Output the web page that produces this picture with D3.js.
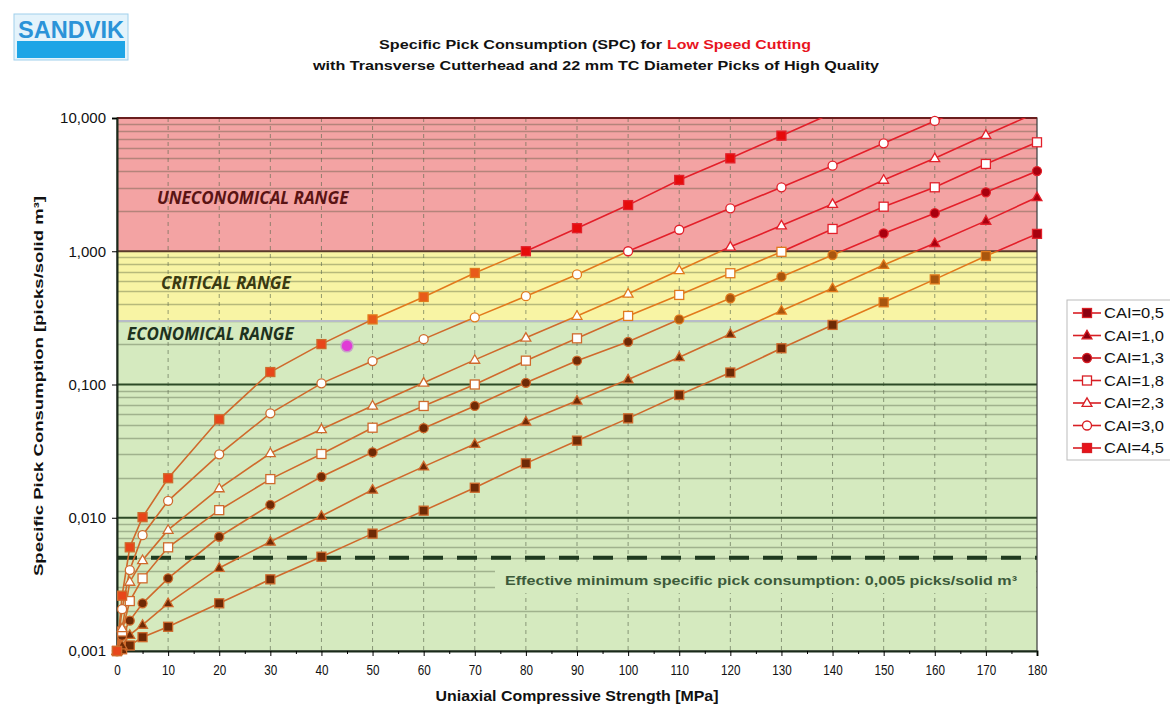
<!DOCTYPE html>
<html>
<head>
<meta charset="utf-8">
<script src="https://cdn.jsdelivr.net/npm/d3@7"></script>
<style>
  body { margin: 0; background: #fff; }
  svg { font-family: "Liberation Sans", Arial, sans-serif; }
</style>
</head>
<body>
<script>
// UCS values [MPa] at which SPC was read
var ucs = [0, 1, 2.5, 5, 10, 20, 30, 40, 50, 60, 70, 80, 90, 100, 110, 120, 130, 140, 150, 160, 170, 180];

// SPC values [picks/solid m3], one array per CAI, same order as ucs
var cai05 = [0.001, 0.00103, 0.0011, 0.00127, 0.00152, 0.00228, 0.00345, 0.0051, 0.0076, 0.0113, 0.0168, 0.0256, 0.0379, 0.0557, 0.0834, 0.123, 0.187, 0.280, 0.414, 0.615, 0.921, 1.35];
var cai10 = [0.001, 0.0011, 0.00132, 0.00157, 0.00228, 0.0042, 0.0066, 0.0103, 0.0162, 0.0242, 0.0357, 0.0526, 0.0756, 0.109, 0.160, 0.239, 0.358, 0.527, 0.788, 1.15, 1.69, 2.54];
var cai13 = [0.001, 0.0013, 0.00169, 0.00228, 0.00351, 0.0072, 0.0125, 0.0203, 0.031, 0.047, 0.069, 0.103, 0.151, 0.209, 0.308, 0.444, 0.644, 0.937, 1.36, 1.93, 2.77, 4.0];
var cai18 = [0.001, 0.0014, 0.00237, 0.00351, 0.0060, 0.0114, 0.0195, 0.0301, 0.0474, 0.069, 0.100, 0.151, 0.222, 0.327, 0.47, 0.684, 0.99, 1.47, 2.16, 3.02, 4.52, 6.57];
var cai23 = [0.001, 0.00148, 0.0033, 0.0048, 0.0081, 0.0166, 0.0305, 0.0461, 0.0693, 0.103, 0.153, 0.224, 0.327, 0.48, 0.72, 1.08, 1.56, 2.26, 3.43, 4.98, 7.45, 11.0];
var cai30 = [0.001, 0.00206, 0.00405, 0.0074, 0.0134, 0.0299, 0.0608, 0.102, 0.150, 0.219, 0.319, 0.46, 0.67, 1.0, 1.45, 2.10, 3.02, 4.39, 6.46, 9.5, 13.8];
var cai45 = [0.001, 0.0026, 0.0060, 0.0101, 0.0198, 0.0548, 0.124, 0.201, 0.308, 0.454, 0.687, 1.0, 1.49, 2.22, 3.43, 4.98, 7.37, 10.9];

var seriesNames = ["CAI=0,5", "CAI=1,0", "CAI=1,3", "CAI=1,8", "CAI=2,3", "CAI=3,0", "CAI=4,5"];
var seriesValues = [cai05, cai10, cai13, cai18, cai23, cai30, cai45];
var seriesShapes = ["square", "triangle", "circle", "square", "triangle", "circle", "square"];
var seriesHollow = [false, false, false, true, true, true, false];

var yTicks = [0.001, 0.01, 0.1, 1, 10];
var yTickLabels = ["0,001", "0,010", "0,100", "1,000", "10,000"];
var xTicks = d3.range(0, 181, 10);
var minSpc = 0.005;
var ranges = [
  {name: "UNECONOMICAL RANGE", lo: 1, hi: 10, fill: "#f3a3a3", line: "#e3202a", mark: "#a8000e", top: "#e60b0b", label: "#5a1414"},
  {name: "CRITICAL RANGE", lo: 0.3, hi: 1, fill: "#f8f4a4", line: "#e27a1c", mark: "#a8560e", top: "#e85a1a", label: "#3a3a12"},
  {name: "ECONOMICAL RANGE", lo: 0.001, hi: 0.3, fill: "#d5eabf", line: "#cf6a2c", mark: "#6e2a06", top: "#e8461a", label: "#1e321e"}
];
var highlight = {ucs: 45, spc: 0.195};

var W = 1170, H = 706;
var pLeft = 117, pRight = 1037, pTop = 118, pBottom = 651;

var x = d3.scaleLinear().domain([0, 180]).range([pLeft, pRight]);
var y = d3.scaleLog().domain([0.001, 10]).range([pBottom, pTop]);

var svg = d3.select("body").append("svg")
  .attr("width", W)
  .attr("height", H);

// logo
var logo = svg.append("g").attr("transform", "translate(14,14)");
logo.append("rect").attr("width", 114).attr("height", 46).attr("fill", "#e4f3fb").attr("stroke", "#9fd0ec");
logo.append("rect").attr("x", 3).attr("y", 27).attr("width", 108).attr("height", 17).attr("fill", "#1ea5e6");
logo.append("text").attr("x", 57).attr("y", 24).attr("text-anchor", "middle")
  .style("font-size", "23px").style("font-weight", "bold").attr("fill", "#2b93d8")
  .attr("textLength", 106).attr("lengthAdjust", "spacingAndGlyphs").text("SANDVIK");

// title (stretched to the reference widths)
svg.append("text").attr("x", 379).attr("y", 49)
  .style("font-size", "13px").style("font-weight", "bold").attr("fill", "#111")
  .attr("textLength", 283).attr("lengthAdjust", "spacingAndGlyphs")
  .text("Specific Pick Consumption (SPC) for");
svg.append("text").attr("x", 667).attr("y", 49)
  .style("font-size", "13px").style("font-weight", "bold").attr("fill", "#e8141e")
  .attr("textLength", 144).attr("lengthAdjust", "spacingAndGlyphs")
  .text("Low Speed Cutting");
svg.append("text").attr("x", 313).attr("y", 70)
  .style("font-size", "13px").style("font-weight", "bold").attr("fill", "#111")
  .attr("textLength", 566).attr("lengthAdjust", "spacingAndGlyphs")
  .text("with Transverse Cutterhead and 22 mm TC Diameter Picks of High Quality");

// bands
ranges.forEach(function(r) {
  svg.append("rect")
    .attr("x", pLeft).attr("width", pRight - pLeft)
    .attr("y", y(r.hi)).attr("height", y(r.lo) - y(r.hi))
    .attr("fill", r.fill);
});

// horizontal grid (log minor lines)
var minor = [];
for (var e = -3; e < 1; e++) {
  for (var m = 2; m <= 9; m++) minor.push(m * Math.pow(10, e));
}
svg.append("g").selectAll("line").data(minor).enter().append("line")
  .attr("x1", pLeft).attr("x2", pRight)
  .attr("y1", function(d) { return Math.round(y(d)) + 0.5; })
  .attr("y2", function(d) { return Math.round(y(d)) + 0.5; })
  .attr("stroke", "#3e4a30").attr("stroke-opacity", 0.35).attr("stroke-width", 1.3);

// vertical dashed grid
svg.append("g").selectAll("line").data(xTicks.slice(1, -1)).enter().append("line")
  .attr("x1", function(d) { return x(d); }).attr("x2", function(d) { return x(d); })
  .attr("y1", pTop).attr("y2", pBottom)
  .attr("stroke", "#5d6a50").attr("stroke-opacity", 0.65).attr("stroke-dasharray", "4,4");

// decade lines
svg.append("g").selectAll("line").data([0.01, 0.1]).enter().append("line")
  .attr("x1", pLeft).attr("x2", pRight)
  .attr("y1", function(d) { return y(d); }).attr("y2", function(d) { return y(d); })
  .attr("stroke", "#2d4a26").attr("stroke-width", 2);
svg.append("line").attr("x1", pLeft).attr("x2", pRight).attr("y1", y(1)).attr("y2", y(1))
  .attr("stroke", "#5a3a2a").attr("stroke-width", 2);
svg.append("line").attr("x1", pLeft).attr("x2", pRight).attr("y1", y(0.3)).attr("y2", y(0.3))
  .attr("stroke", "#b8bcc8").attr("stroke-width", 2);

// label box for min line text, hides grid under it
svg.append("rect").attr("x", 495).attr("y", 563).attr("width", pRight - 496).attr("height", 30)
  .attr("fill", ranges[2].fill);
svg.append("text").attr("x", 505).attr("y", 585)
  .style("font-size", "13px").style("font-weight", "bold").attr("fill", "#3c5a3a")
  .attr("textLength", 512).attr("lengthAdjust", "spacingAndGlyphs")
  .text("Effective minimum specific pick consumption: 0,005 picks/solid m\u00b3");

// dashed min line
svg.append("line").attr("x1", pLeft).attr("x2", pRight).attr("y1", y(minSpc)).attr("y2", y(minSpc))
  .attr("stroke", "#1f3a1f").attr("stroke-width", 4).attr("stroke-dasharray", "20,14");

// plot border
svg.append("rect").attr("x", pLeft).attr("y", pTop).attr("width", pRight - pLeft).attr("height", pBottom - pTop)
  .attr("fill", "none").attr("stroke", "#3a3a3a").attr("stroke-width", 1.2);
svg.append("line").attr("x1", pLeft).attr("x2", pRight).attr("y1", pTop).attr("y2", pTop)
  .attr("stroke", "#6a1e1e").attr("stroke-width", 2);

// range labels
var labelPos = [[157, 204], [161, 289], [127, 340]];
ranges.forEach(function(r, i) {
  svg.append("text").attr("x", labelPos[i][0]).attr("y", labelPos[i][1])
    .style("font-family", "'Open Sans', sans-serif").style("font-style", "italic")
    .style("font-weight", "bold").style("font-size", "17px").attr("fill", r.label)
    .text(r.name);
});

// axes
var xAxis = d3.axisBottom(x).tickValues(xTicks).tickSize(5).tickPadding(8).tickFormat(d3.format("d"));
var gx = svg.append("g").attr("transform", "translate(0," + pBottom + ")").call(xAxis);
gx.select(".domain").attr("stroke", "#1a2a1a").attr("stroke-width", 2);
gx.selectAll("text").style("font-size", "15px").attr("fill", "#111")
  .attr("transform", "scale(0.78,1)");
svg.append("g").attr("transform", "translate(0," + pBottom + ")")
  .call(d3.axisBottom(x).tickValues(d3.range(5, 180, 10)).tickSize(3).tickFormat(""))
  .select(".domain").remove();

var yAxis = d3.axisLeft(y).tickValues(yTicks).tickSize(5).tickPadding(6)
  .tickFormat(function(d, i) { return yTickLabels[i]; });
var gy = svg.append("g").attr("transform", "translate(" + pLeft + ",0)").call(yAxis);
gy.select(".domain").attr("stroke", "#1a2a1a").attr("stroke-width", 2);
gy.selectAll("text").style("font-size", "15px").attr("fill", "#111");

svg.append("text").attr("transform", "translate(43,386) rotate(-90)").attr("text-anchor", "middle")
  .style("font-size", "13.5px").style("font-weight", "bold").attr("fill", "#111")
  .attr("textLength", 380).attr("lengthAdjust", "spacingAndGlyphs")
  .text("Specific Pick Consumption [picks/solid m\u00b3]");
svg.append("text").attr("x", 577).attr("y", 701).attr("text-anchor", "middle")
  .style("font-size", "14px").style("font-weight", "bold").attr("fill", "#111")
  .attr("textLength", 283).attr("lengthAdjust", "spacingAndGlyphs")
  .text("Uniaxial Compressive Strength [MPa]");

// series lines, coloured per range via clipping
var defs = svg.append("defs");
var line = d3.line()
  .x(function(d) { return x(d[0]); })
  .y(function(d) { return y(d[1]); });
var seriesData = seriesValues.map(function(vals) {
  return vals.map(function(v, i) { return [ucs[i], v]; });
});

ranges.forEach(function(r, i) {
  defs.append("clipPath").attr("id", "clip" + i).append("rect")
    .attr("x", pLeft).attr("width", pRight - pLeft)
    .attr("y", y(r.hi)).attr("height", y(r.lo) - y(r.hi));
  svg.append("g").attr("clip-path", "url(#clip" + i + ")")
    .selectAll("path").data(seriesData).enter().append("path")
    .attr("d", line).attr("fill", "none").attr("stroke", r.line).attr("stroke-width", 1.6);
});

function rangeOf(v) {
  if (v >= 1) return ranges[0];
  if (v >= 0.3) return ranges[1];
  return ranges[2];
}

function drawMarker(g, shape, hollow, cx, cy, stroke, fill) {
  var el;
  if (shape === "square") {
    el = g.append("rect").attr("x", cx - 4.5).attr("y", cy - 4.5).attr("width", 9).attr("height", 9);
  } else if (shape === "triangle") {
    el = g.append("path").attr("d", d3.symbol().type(d3.symbolTriangle).size(42)())
      .attr("transform", "translate(" + cx + "," + (cy + 0.5) + ")");
  } else {
    el = g.append("circle").attr("cx", cx).attr("cy", cy).attr("r", 4.5);
  }
  el.attr("fill", hollow ? "#fff" : fill).attr("stroke", stroke).attr("stroke-width", 1.3);
}

var marks = svg.append("g");
seriesData.forEach(function(pts, s) {
  pts.forEach(function(p) {
    if (p[1] > 10) return;
    var r = rangeOf(p[1]);
    var fill = s === 6 ? r.top : r.mark;
    drawMarker(marks, seriesShapes[s], seriesHollow[s], x(p[0]), y(p[1]), r.line, fill);
  });
});

// highlighted point
svg.append("circle").attr("cx", x(highlight.ucs)).attr("cy", y(highlight.spc)).attr("r", 6)
  .attr("fill", "#e03cd6").attr("stroke", "#c9a0c8").attr("stroke-width", 1.5);

// legend
var lg = svg.append("g").attr("transform", "translate(1067,300)");
lg.append("rect").attr("width", 110).attr("height", 160).attr("fill", "#fff").attr("stroke", "#bbb");
seriesNames.forEach(function(name, i) {
  var ly = 13 + i * 22.5;
  lg.append("line").attr("x1", 6).attr("x2", 34).attr("y1", ly).attr("y2", ly)
    .attr("stroke", "#d81e24").attr("stroke-width", 1.6);
  drawMarker(lg, seriesShapes[i], seriesHollow[i], 20, ly, "#d81e24", i === 6 ? "#e8121a" : "#8a0010");
  lg.append("text").attr("x", 37).attr("y", ly + 5).style("font-size", "15px").attr("fill", "#111")
    .attr("textLength", 60).attr("lengthAdjust", "spacingAndGlyphs").text(name);
});
</script>
</body>
</html>
